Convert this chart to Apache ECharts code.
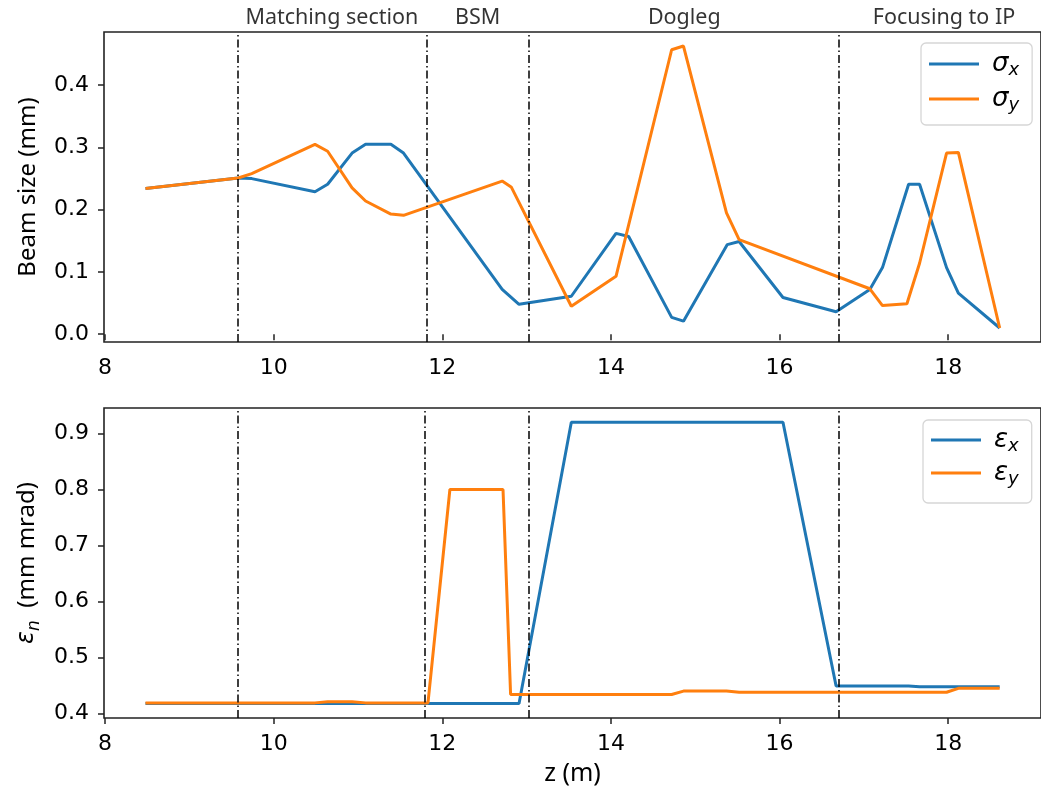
<!DOCTYPE html>
<html><head><meta charset="utf-8">
<script src="https://cdn.jsdelivr.net/npm/echarts@6/dist/echarts.min.js"></script>
<style>html,body{margin:0;padding:0;background:#fff}#c{width:1041px;height:792px}</style>
</head><body><div id="c"></div>
<script>
// ---- data ----
const zSigmaX = [8.48, 9.58, 9.74, 10.49, 10.64, 10.93, 11.09, 11.39, 11.54, 12.71, 12.91, 13.53, 14.06, 14.21, 14.72, 14.86, 15.38, 15.52, 16.04, 16.67, 17.07, 17.22, 17.53, 17.66, 17.98, 18.12, 18.61];
const sigmaX  = [0.234, 0.251, 0.250, 0.229, 0.241, 0.291, 0.305, 0.305, 0.291, 0.072, 0.048, 0.061, 0.162, 0.157, 0.027, 0.021, 0.144, 0.149, 0.059, 0.036, 0.072, 0.107, 0.241, 0.241, 0.107, 0.066, 0.010];
const zSigmaY = [8.48, 9.58, 9.74, 10.49, 10.64, 10.93, 11.09, 11.39, 11.54, 12.71, 12.82, 13.53, 14.06, 14.72, 14.86, 15.37, 15.52, 17.07, 17.22, 17.51, 17.66, 17.98, 18.12, 18.61];
const sigmaY  = [0.234, 0.251, 0.258, 0.305, 0.294, 0.235, 0.214, 0.193, 0.191, 0.246, 0.236, 0.045, 0.093, 0.457, 0.463, 0.195, 0.152, 0.073, 0.046, 0.049, 0.114, 0.291, 0.292, 0.010];

const zEpsX = [8.48, 9.58, 10.49, 11.54, 12.71, 12.91, 13.53, 14.72, 15.52, 16.04, 16.67, 17.07, 17.53, 17.66, 18.12, 18.61];
const epsX  = [0.418, 0.418, 0.418, 0.418, 0.418, 0.418, 0.920, 0.920, 0.920, 0.920, 0.449, 0.449, 0.449, 0.448, 0.448, 0.448];
const zEpsY = [8.48, 9.58, 10.49, 10.64, 10.93, 11.09, 11.54, 11.83, 12.09, 12.72, 12.81, 13.53, 14.72, 14.86, 15.37, 15.52, 17.07, 17.22, 17.53, 17.98, 18.12, 18.61];
const epsY  = [0.419, 0.419, 0.419, 0.421, 0.421, 0.419, 0.419, 0.419, 0.800, 0.800, 0.434, 0.434, 0.434, 0.440, 0.440, 0.438, 0.438, 0.438, 0.438, 0.438, 0.445, 0.445];

const vlinesTop = [9.58, 11.82, 13.03, 16.70];
const vlinesBottom = [9.58, 11.79, 13.02, 16.70];
const sectionNames = ['Matching section', 'BSM', 'Dogleg', 'Focusing to IP'];
const sectionCenters = [10.69, 12.42, 14.87, 17.95];

const xTicks = [8, 10, 12, 14, 16, 18];
const yTicksTop = [0.0, 0.1, 0.2, 0.3, 0.4];
const yTicksBottom = [0.4, 0.5, 0.6, 0.7, 0.8, 0.9];

// ---- chart ----
const BLUE = '#1f77b4', ORANGE = '#ff7f0e', AX = '#222';
const TICK_FONT = 'DejaVu Sans';
const TEXT_FONT = 'Noto Sans';
const TXT = '#000';
const pair = (xs, ys) => xs.map((x, i) => [x, ys[i]]);

const gridCommon = {left: 104, width: 938, show: true, borderColor: AX, borderWidth: 1.6, backgroundColor: 'transparent'};

function xAxisCfg(idx) {
  return {
    type: 'value', gridIndex: idx, min: 7.988, max: 19.1,
    axisLine: {show: false},
    splitLine: {show: false},
    axisTick: {show: true, customValues: xTicks, length: 6, lineStyle: {color: AX, width: 1.5}},
    axisLabel: {customValues: xTicks, margin: 15, color: TXT, fontFamily: TICK_FONT, fontSize: 22},
    name: idx === 1 ? 'z (m)' : '', nameLocation: 'middle', nameGap: 43,
    nameTextStyle: {fontFamily: TEXT_FONT, fontSize: 25, color: TXT}
  };
}
function yAxisCfg(idx, min, max, ticks, name) {
  return {
    type: 'value', gridIndex: idx, min: min, max: max,
    axisLine: {show: false},
    splitLine: {show: false},
    axisTick: {show: true, customValues: ticks, length: 6, lineStyle: {color: AX, width: 1.5}},
    axisLabel: {customValues: ticks, margin: 15, color: TXT, fontFamily: TICK_FONT, fontSize: 22,
      formatter: v => Number(v).toFixed(1)},
    name: name, nameLocation: 'middle', nameGap: 60, nameRotate: 90,
    nameTextStyle: {fontFamily: TEXT_FONT, fontSize: 24, color: TXT,
      rich: {
        g: {fontFamily: 'DejaVu Sans', fontStyle: 'italic', fontSize: 24, color: TXT, lineHeight: 32},
        s: {fontFamily: 'DejaVu Sans', fontStyle: 'italic', fontSize: 17, color: TXT, lineHeight: 17, verticalAlign: 'bottom'},
        t: {fontFamily: TEXT_FONT, fontSize: 24, color: TXT, lineHeight: 32}
      }}
  };
}
const dashDot = {color: '#000', width: 1.5, type: [8, 3, 1.5, 3]};
function vlineMark(vals) {
  return {silent: true, symbol: ['none', 'none'], label: {show: false}, lineStyle: dashDot,
    emphasis: {disabled: true}, data: vals.map(v => ({xAxis: v}))};
}
function lineSeries(name, color, data, gi, mark) {
  const s = {name: name, type: 'line', xAxisIndex: gi, yAxisIndex: gi, data: data,
    showSymbol: false, symbol: 'none', lineStyle: {color: color, width: 3}, itemStyle: {color: color},
    emphasis: {disabled: true}, z: 3};
  if (mark) s.markLine = mark;
  return s;
}
const legendRich = {
  a: {fontFamily: 'DejaVu Sans', fontStyle: 'italic', fontSize: 26, color: TXT, lineHeight: 30},
  b: {fontFamily: 'DejaVu Sans', fontStyle: 'italic', fontSize: 18, color: TXT, lineHeight: 17, verticalAlign: 'bottom'}
};
function legendCfg(names, left, top, gap, pad) {
  return {
    orient: 'vertical', left: left, top: top, data: names, icon: 'rect',
    itemWidth: 50, itemHeight: 3, itemGap: gap, padding: pad,
    borderColor: '#d6d6d6', borderWidth: 1.3, borderRadius: 5, backgroundColor: '#fff',
    textStyle: {rich: legendRich, padding: [0, 0, 0, 8]},
    formatter: n => '{a|' + n[0] + '}{b|' + n.slice(1) + '}',
    selectedMode: false
  };
}

const option = {
  animation: false,
  backgroundColor: '#fff',
  grid: [
    Object.assign({top: 32, height: 310}, gridCommon),
    Object.assign({top: 408, height: 310}, gridCommon)
  ],
  xAxis: [xAxisCfg(0), xAxisCfg(1)],
  yAxis: [
    yAxisCfg(0, -0.0125, 0.4855, yTicksTop, '{t|Beam size (mm)}'),
    yAxisCfg(1, 0.392, 0.9455, yTicksBottom, '{g|ε}{s|n}{t|  (mm mrad)}')
  ],
  legend: [
    legendCfg(['σx', 'σy'], 921, 43, 7, [8, 13, 11, 8]),
    legendCfg(['εx', 'εy'], 923, 420, 5, [7, 13, 15, 8])
  ],
  series: [
    lineSeries('σx', BLUE, pair(zSigmaX, sigmaX), 0, vlineMark(vlinesTop)),
    lineSeries('σy', ORANGE, pair(zSigmaY, sigmaY), 0),
    lineSeries('εx', BLUE, pair(zEpsX, epsX), 1, vlineMark(vlinesBottom)),
    lineSeries('εy', ORANGE, pair(zEpsY, epsY), 1),
    {
      type: 'scatter', xAxisIndex: 0, yAxisIndex: 0, symbolSize: 0, silent: true,
      data: sectionCenters.map((c, i) => ({value: [c, 0.4855], name: sectionNames[i]})),
      label: {show: true, position: 'top', distance: 3, formatter: p => p.name,
        fontFamily: TEXT_FONT, fontSize: 21.5, color: TXT},
      clip: false
    }
  ]
};
const chart = echarts.init(document.getElementById('c'));
chart.setOption(option);
</script>
</body></html>
